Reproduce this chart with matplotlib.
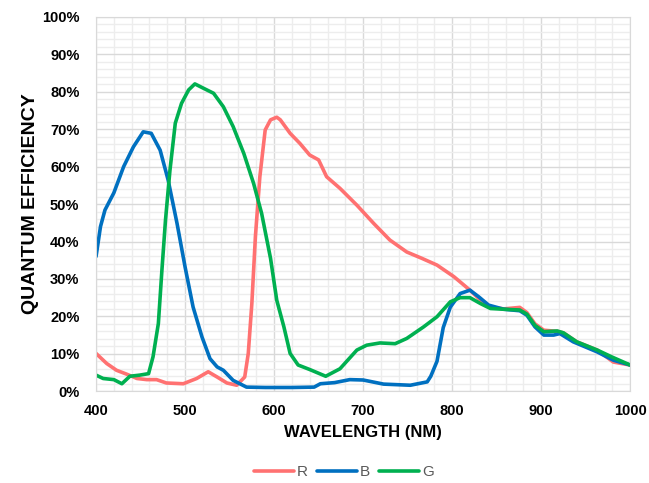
import matplotlib.pyplot as plt
from matplotlib.ticker import MultipleLocator, PercentFormatter

plt.rcParams["font.family"] = ["Liberation Sans", "DejaVu Sans"]

# Quantum efficiency curves (wavelength in nm, QE in %)
wl_r = [400, 412, 423, 435, 446, 457, 468, 479, 498, 513, 526, 536, 547, 558, 567,
        571, 575, 579, 584, 590, 596, 603, 607, 618, 629, 640, 650, 659, 674, 693,
        712, 730, 749, 766, 783, 802, 820, 831, 843, 858, 876, 884, 893, 903, 918,
        925, 940, 963, 981, 1000]
qe_r = [10.1, 7.4, 5.6, 4.5, 3.4, 3.1, 3.1, 2.2, 2.0, 3.4, 5.2, 3.8, 2.2, 1.6, 3.8,
        10.1, 23.4, 41.3, 57.3, 69.8, 72.5, 73.2, 72.5, 68.9, 66.2, 63.1, 61.8, 57.3, 54.2, 49.7,
        44.8, 40.4, 37.2, 35.5, 33.7, 30.6, 27.0, 24.5, 22.5, 22.0, 22.4, 21.0, 18.0, 16.3, 16.0,
        15.6, 13.2, 11.0, 7.8, 7.0]

wl_b = [400, 405, 410, 420, 431, 442, 453, 462, 472, 481, 491, 500, 509, 519, 528,
        536, 543, 554, 569, 590, 620, 645, 652, 668, 685, 700, 723, 753, 772, 776,
        783, 790, 798, 809, 820, 830, 841, 858, 876, 884, 893, 903, 914, 921, 936,
        963, 981, 1000]
qe_b = [36.0, 44.0, 48.4, 53.0, 60.0, 65.3, 69.3, 68.9, 64.4, 56.4, 44.8, 33.2, 22.5, 14.5, 8.7,
        6.5, 5.6, 2.9, 1.1, 1.0, 1.0, 1.1, 2.0, 2.3, 3.1, 3.0, 1.9, 1.6, 2.5, 4.0,
        8.0, 17.0, 22.5, 26.1, 27.0, 25.2, 23.0, 21.9, 21.5, 20.3, 17.2, 15.0, 15.0, 15.4, 13.2,
        10.5, 8.3, 7.0]

wl_g = [400, 408, 420, 429, 438, 449, 459, 464, 470, 474, 478, 483, 489, 496, 504,
        511, 521, 532, 543, 554, 566, 577, 586, 596, 603, 611, 618, 627, 640, 658,
        674, 693, 704, 719, 736, 749, 768, 783, 798, 809, 820, 832, 843, 858, 876,
        884, 893, 903, 918, 925, 940, 963, 979, 1000]
qe_g = [4.3, 3.4, 3.1, 2.0, 4.0, 4.3, 4.7, 9.2, 18.1, 32.4, 45.7, 59.0, 71.6, 76.9, 80.5,
        82.1, 80.9, 79.6, 76.0, 70.7, 63.5, 55.5, 47.5, 35.5, 24.3, 17.2, 10.1, 7.0, 5.8, 4.0,
        6.0, 11.0, 12.3, 12.9, 12.7, 14.1, 17.2, 19.9, 23.9, 25.0, 25.0, 23.4, 22.1, 21.9, 21.7,
        20.6, 17.6, 15.9, 16.1, 15.6, 13.2, 11.0, 9.2, 7.0]

fig = plt.figure(figsize=(6.49, 4.83), dpi=100)
ax = fig.add_axes([0.148, 0.190, 0.823, 0.775])

# Excel draws the series in order, G ends up on top
for wl, qe, col, name in [(wl_r, qe_r, "#FF7171", "R"),
                          (wl_b, qe_b, "#0070C0", "B"),
                          (wl_g, qe_g, "#00B050", "G")]:
    ax.plot(wl, qe, color=col, lw=2.6, label=name,
            solid_capstyle="round", solid_joinstyle="round")

ax.set_xlim(400, 1000)
ax.set_ylim(0, 100)
ax.xaxis.set_major_locator(MultipleLocator(100))
ax.xaxis.set_minor_locator(MultipleLocator(20))
ax.yaxis.set_major_locator(MultipleLocator(10))
ax.yaxis.set_minor_locator(MultipleLocator(2))
ax.yaxis.set_major_formatter(PercentFormatter(decimals=0))

ax.grid(which="major", color="#D9D9D9", lw=1.0)
ax.grid(which="minor", color="#EDEDED", lw=1.0)
ax.set_axisbelow(True)
for s in ax.spines.values():
    s.set_color("#D9D9D9")

ax.tick_params(which="both", length=0)
ax.tick_params(axis="y", labelsize=10.5, pad=12)
ax.tick_params(axis="x", labelsize=10.5, pad=9)
for lab in ax.get_xticklabels() + ax.get_yticklabels():
    lab.set_fontweight("bold")

ax.set_xlabel("WAVELENGTH (NM)", fontsize=12, fontweight="bold", labelpad=5)
ax.set_ylabel("QUANTUM EFFICIENCY", fontsize=14, fontweight="bold", labelpad=2)

leg = fig.legend(loc="lower center", bbox_to_anchor=(0.53, -0.02), ncol=3,
                 frameon=False, fontsize=11, handlelength=2.6, columnspacing=0.6,
                 handletextpad=0.2)
for t in leg.get_texts():
    t.set_color("#595959")

fig.savefig("out.png", dpi=100)
